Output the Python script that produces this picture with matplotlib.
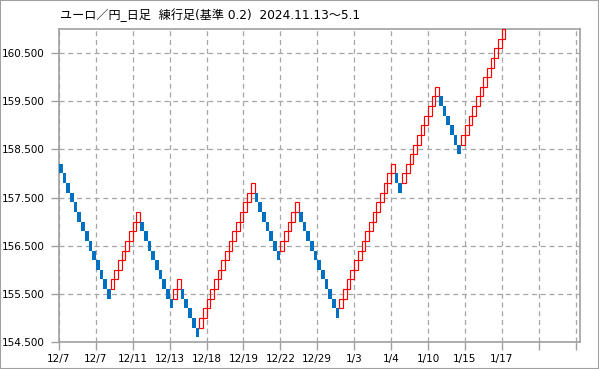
import matplotlib
matplotlib.use("Agg")
import matplotlib.pyplot as plt
from matplotlib.patches import Rectangle
import numpy as np

# ---- data ----
brick_size = 0.2
run_from = [158.2, 155.6, 157.0, 155.4, 155.6, 154.8, 157.6, 156.4, 157.2, 155.2, 158.0, 157.8, 159.6, 158.6]
run_to   = [155.4, 157.2, 155.2, 155.8, 154.6, 157.8, 156.2, 157.4, 155.0, 158.2, 157.6, 159.8, 158.4, 161.0]
tick_slots = [0, 10, 20, 30, 40, 50, 60, 70, 80, 90, 100, 110, 120, 130, 140]
tick_labels = ["12/7", "12/7", "12/11", "12/13", "12/18", "12/19", "12/22", "12/29",
               "1/3", "1/4", "1/10", "1/15", "1/17", "", ""]
y_ticks = [154.5, 155.5, 156.5, 157.5, 158.5, 159.5, 160.5]
title = "ユーロ／円_日足  練行足(基準 0.2)  2024.11.13～5.1"

# build bricks (low, direction)
bricks = []
for a, b in zip(run_from, run_to):
    n = int(round(abs(b - a) / brick_size))
    if b > a:
        for k in range(n):
            bricks.append((a + k * brick_size, 1))
    else:
        for k in range(n):
            bricks.append((a - (k + 1) * brick_size, -1))

fig = plt.figure(figsize=(5.99, 3.69), dpi=100)
ax = fig.add_axes([59/599, 27/369, (580-59)/599, (342-29)/369])

blue = "#0070C0"
red = "#FF0000"
for i, (low, d) in enumerate(bricks):
    if d > 0:
        ax.add_patch(Rectangle((i, low), 1, brick_size, facecolor="none",
                               edgecolor=red, linewidth=0.85, zorder=3))
    else:
        ax.add_patch(Rectangle((i, low), 1, brick_size, facecolor=blue,
                               edgecolor="none", linewidth=0, zorder=3))

ax.set_xlim(0, 141.2)
ax.set_ylim(154.5, 161.0)
ax.set_xticks(tick_slots)
ax.set_xticklabels(tick_labels)
ax.set_yticks(y_ticks)
ax.set_yticklabels([f"{v:.3f}" for v in y_ticks])
ax.grid(True, color="#A6A6A6", linestyle=(0, (4, 3)), linewidth=0.9)
ax.set_axisbelow(True)
for s in ax.spines.values():
    s.set_color("#A0A0A0")
    s.set_linewidth(1.2)
ax.tick_params(axis="both", colors="#A0A0A0", labelcolor="black", labelsize=7.5,
               length=5.5, width=1)
ax.tick_params(axis="x", pad=3)
ax.tick_params(axis="y", pad=4.6)

fig.text(60/599, 1 - 15/369, title, ha="left", va="center", fontsize=8.7,
         family=["DejaVu Sans", "Noto Sans CJK JP"])

fig.patches.append(Rectangle((0, 0), 1, 1, transform=fig.transFigure, fill=False,
                             edgecolor="#A0A0A0", linewidth=1.5))

fig.savefig("out.png", dpi=100)
